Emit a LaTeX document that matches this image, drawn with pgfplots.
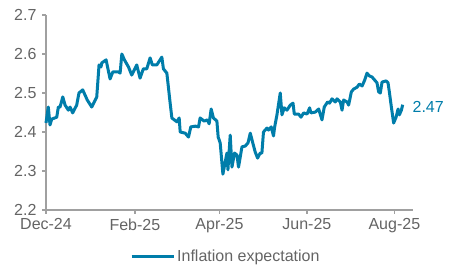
\documentclass[border=0pt]{standalone}
\usepackage{pgfplots}
\pgfplotsset{compat=1.18}
\usepackage{fontspec}
\setmainfont{Liberation Sans}
\definecolor{lineblue}{RGB}{0,125,170}
\definecolor{txtgray}{RGB}{100,100,100}
\definecolor{axgray}{RGB}{160,160,160}
\begin{document}
\begin{tikzpicture}
\begin{axis}[
  at={(46pt,63pt)}, anchor=south west,
  width=367pt, height=195pt, scale only axis,
  xmin=0, xmax=256, ymin=2.2, ymax=2.7,
  axis lines=left, axis line style={axgray, line width=1.5pt, -},
  xtick={0,62,121,182,243},
  xticklabels={Dec-24,Feb-25,Apr-25,Jun-25,Aug-25},
  ytick={2.2,2.3,2.4,2.5,2.6,2.7},
  /pgf/number format/fixed, /pgf/number format/fixed zerofill, /pgf/number format/precision=1,
  tick style={axgray, line width=1.5pt},
  tick align=outside, major tick length=4pt,
  ticklabel style={font=\fontsize{16}{18}\selectfont, text=txtgray},
  /pgf/number format/assume math mode=true,
  xticklabel style={yshift=-1pt},
  yticklabel style={xshift=-2pt},
  clip=false,
  legend style={at={(0.49,-0.236)}, anchor=center, draw=none, fill=none,
    font=\fontsize{16}{18}\selectfont, text=txtgray},
  legend image code/.code={\draw[#1] (0pt,0pt) -- (42pt,0pt);},
]
\addplot[lineblue, line width=3pt, line join=round] coordinates {
(0,2.423)(1.6,2.464)(2.8,2.418)(4.0,2.433)(7.5,2.438)(8.6,2.464)(9.8,2.464)
(11.7,2.490)(13.3,2.469)(15.6,2.456)(16.8,2.464)(18.6,2.449)(21.4,2.469)
(23.0,2.500)(25.6,2.508)(28.8,2.482)(31.9,2.464)(35.4,2.490)(37.0,2.572)
(38.4,2.567)(38.9,2.577)(41.9,2.585)(44.7,2.536)(46.6,2.554)(50.5,2.554)
(51.7,2.551)(52.9,2.600)(54.7,2.585)(57.5,2.567)(59.8,2.546)(63.3,2.572)
(65.6,2.538)(67.9,2.562)(70.3,2.562)(72.6,2.590)(74.2,2.572)(77.3,2.572)
(80.8,2.592)(81.9,2.562)(84.3,2.551)(86.6,2.474)(87.8,2.436)(91.3,2.426)
(92.9,2.436)(93.6,2.400)(97.1,2.397)(99.4,2.387)(101.0,2.413)(104.1,2.415)
(106.4,2.413)(107.5,2.436)(110.3,2.428)(112.6,2.431)(113.8,2.421)(115.2,2.459)
(116.8,2.436)(119.2,2.428)(120.1,2.387)(121.5,2.372)(123.4,2.292)(125.0,2.323)
(126.2,2.346)(126.9,2.303)(128.5,2.392)(129.7,2.310)(131.5,2.346)(133.2,2.341)
(134.3,2.310)(136.7,2.362)(139.0,2.364)(140.9,2.372)(142.5,2.397)(144.1,2.374)
(145.9,2.349)(147.6,2.333)(149.4,2.346)(150.6,2.346)(151.7,2.400)(154.1,2.410)
(155.2,2.405)(157.1,2.413)(158.7,2.390)(159.5,2.413)(161.1,2.444)(163.4,2.500)
(164.6,2.444)(166.2,2.462)(168.1,2.456)(170.4,2.469)(172.3,2.474)(173.2,2.446)
(176.2,2.446)(177.9,2.438)(179.7,2.449)(182.1,2.446)(183.9,2.462)(184.8,2.449)
(187.8,2.451)(190.2,2.459)(192.5,2.431)(194.1,2.464)(196.4,2.477)(197.8,2.474)
(199.5,2.485)(201.8,2.477)(203.0,2.485)(205.3,2.477)(206.5,2.456)(207.6,2.482)
(210.0,2.477)(211.1,2.469)(213.0,2.503)(214.6,2.510)(217.0,2.515)(218.6,2.523)
(220.5,2.518)(222.3,2.533)(223.9,2.551)(225.5,2.544)(227.4,2.541)(229.3,2.533)
(230.9,2.526)(232.0,2.503)(233.2,2.500)(234.4,2.528)(237.2,2.531)(238.6,2.526)
(239.5,2.503)(240.9,2.464)(242.5,2.423)(244.2,2.438)(245.6,2.459)(246.5,2.444)
(247.9,2.456)(248.8,2.470)
};
\addlegendentry{Inflation expectation}
\node[anchor=west, text=lineblue, font=\fontsize{16}{18}\selectfont, inner sep=0pt] at (axis cs:255.6,2.465) {2.47};
\end{axis}
\pgfresetboundingbox
\path[use as bounding box] (0,0) rectangle (450pt,273pt);
\end{tikzpicture}
\end{document}
